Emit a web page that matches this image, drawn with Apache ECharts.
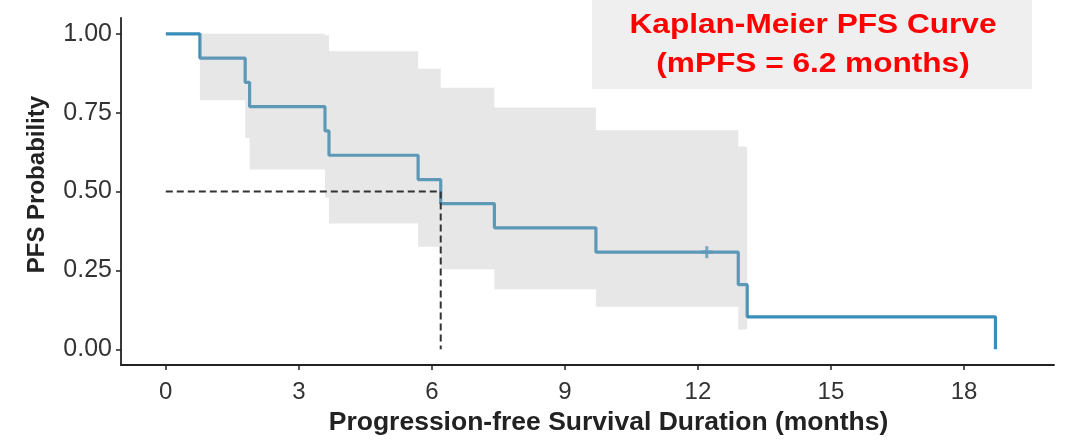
<!DOCTYPE html>
<html>
<head>
<meta charset="utf-8">
<title>Kaplan-Meier PFS Curve</title>
<script src="https://cdn.jsdelivr.net/npm/echarts@6/dist/echarts.min.js"></script>
<style>
  html, body { margin: 0; padding: 0; background: #fff; }
  #chart { width: 1069px; height: 441px; }
</style>
</head>
<body>
<div id="chart"></div>
<script>
// KM step curve (months, survival probability)
const kmTime = [0, 0.77, 1.79, 1.89, 3.59, 3.68, 5.69, 6.20, 7.41, 9.70, 12.91, 13.11, 18.71]
const kmSurv = [1, 0.923, 0.846, 0.769, 0.692, 0.615, 0.538, 0.462, 0.385, 0.308, 0.205, 0.103, 0]

// censored observation
const censorTime = [12.20]
const censorSurv = [0.308]

// confidence band, one value per interval between consecutive band times
const bandTime = [0.77, 1.79, 1.89, 3.59, 3.68, 5.69, 6.20, 7.41, 9.70, 12.91, 13.11]
const bandUpper = [1, 1, 1, 0.995, 0.945, 0.889, 0.829, 0.766, 0.694, 0.643]
const bandLower = [0.789, 0.67, 0.57, 0.48, 0.399, 0.325, 0.254, 0.19, 0.135, 0.063]

// median survival guide
const medianTime = 6.2
const medianSurv = 0.5

const xTicks = [0, 3, 6, 9, 12, 15, 18]
const yTicks = [0, 0.25, 0.5, 0.75, 1]

const titleLines = ['Kaplan-Meier PFS Curve', '(mPFS = 6.2 months)']

const chart = echarts.init(document.getElementById('chart'))

const kmData = kmTime.map((t, i) => [t, kmSurv[i]])
const censorData = censorTime.map((t, i) => [t, censorSurv[i]])
const medianData = [[0, medianSurv], [medianTime, medianSurv], [medianTime, 0]]

const axisColor = '#222'
const labelColor = '#333'
const curveColor = '#3a8fba'
const fontFamily = '"Liberation Sans", Arial, sans-serif'

const option = {
  animation: false,
  grid: {
    left: 121,
    right: 15,
    top: 18,
    bottom: 74
  },
  xAxis: {
    type: 'value',
    min: -1.01,
    max: 20.03,
    name: 'Progression-free Survival Duration (months)',
    nameLocation: 'middle',
    nameGap: 39,
    nameTextStyle: {
      fontFamily,
      fontSize: 26.5,
      fontWeight: 'bold',
      color: '#222',
      padding: [0, 0, 0, 42] // ggplot centres this a bit right of the axis middle
    },
    splitLine: { show: false },
    axisLine: { onZero: false, lineStyle: { color: axisColor, width: 1.8 } },
    axisTick: { customValues: xTicks, length: 5, lineStyle: { color: axisColor, width: 1.5 } },
    axisLabel: { customValues: xTicks, margin: 15, fontFamily, fontSize: 24, color: labelColor }
  },
  yAxis: {
    type: 'value',
    min: -0.05,
    max: 1.05,
    name: 'PFS Probability',
    nameLocation: 'middle',
    nameGap: 72,
    nameTextStyle: {
      fontFamily,
      fontSize: 24,
      fontWeight: 'bold',
      color: '#222',
      padding: [0, 0, 0, 14]
    },
    splitLine: { show: false },
    axisLine: { show: true, onZero: false, lineStyle: { color: axisColor, width: 1.8 } },
    axisTick: { show: true, customValues: yTicks, length: 5, lineStyle: { color: axisColor, width: 1.5 } },
    axisLabel: {
      customValues: yTicks,
      margin: 9,
      fontFamily,
      fontSize: 25,
      color: labelColor,
      formatter: v => v.toFixed(2)
    }
  },
  graphic: [
    {
      type: 'rect',
      shape: { x: 592, y: 0, width: 440, height: 89 },
      style: { fill: '#efefef' },
      z: 0
    },
    {
      type: 'text',
      x: 813,
      y: 26,
      scaleX: 1.17,
      style: {
        text: titleLines[0],
        font: 'bold 27px ' + fontFamily,
        fill: '#ff0000',
        align: 'center',
        verticalAlign: 'middle'
      },
      z: 1
    },
    {
      type: 'text',
      x: 813,
      y: 65,
      scaleX: 1.17,
      style: {
        text: titleLines[1],
        font: 'bold 27px ' + fontFamily,
        fill: '#ff0000',
        align: 'center',
        verticalAlign: 'middle'
      },
      z: 1
    }
  ],
  series: [
    {
      name: 'KM',
      type: 'line',
      step: 'end',
      data: kmData,
      showSymbol: false,
      lineStyle: { color: curveColor, width: 3.2 },
      z: 2
    },
    {
      name: 'censor',
      type: 'scatter',
      data: censorData,
      symbol: 'path://M3.7,0H6.3V3.7H10V6.3H6.3V10H3.7V6.3H0V3.7H3.7Z',
      symbolSize: 12,
      itemStyle: { color: curveColor },
      z: 3
    },
    {
      // confidence band as one step polygon, drawn over the curve with alpha
      name: 'band',
      type: 'custom',
      data: [0],
      z: 4,
      silent: true,
      renderItem: (params, api) => {
        const pts = []
        for (let i = 0; i < bandUpper.length; i++) {
          pts.push(api.coord([bandTime[i], bandUpper[i]]))
          pts.push(api.coord([bandTime[i + 1], bandUpper[i]]))
        }
        for (let i = bandLower.length - 1; i >= 0; i--) {
          pts.push(api.coord([bandTime[i + 1], bandLower[i]]))
          pts.push(api.coord([bandTime[i], bandLower[i]]))
        }
        return {
          type: 'polygon',
          shape: { points: pts },
          style: { fill: 'rgba(176,176,176,0.3)' }
        }
      }
    },
    {
      name: 'median',
      type: 'line',
      data: medianData,
      showSymbol: false,
      lineStyle: { color: '#333', width: 2, type: [7, 4] },
      z: 5
    }
  ]
}

chart.setOption(option)
window.addEventListener('resize', () => chart.resize())
</script>
</body>
</html>
